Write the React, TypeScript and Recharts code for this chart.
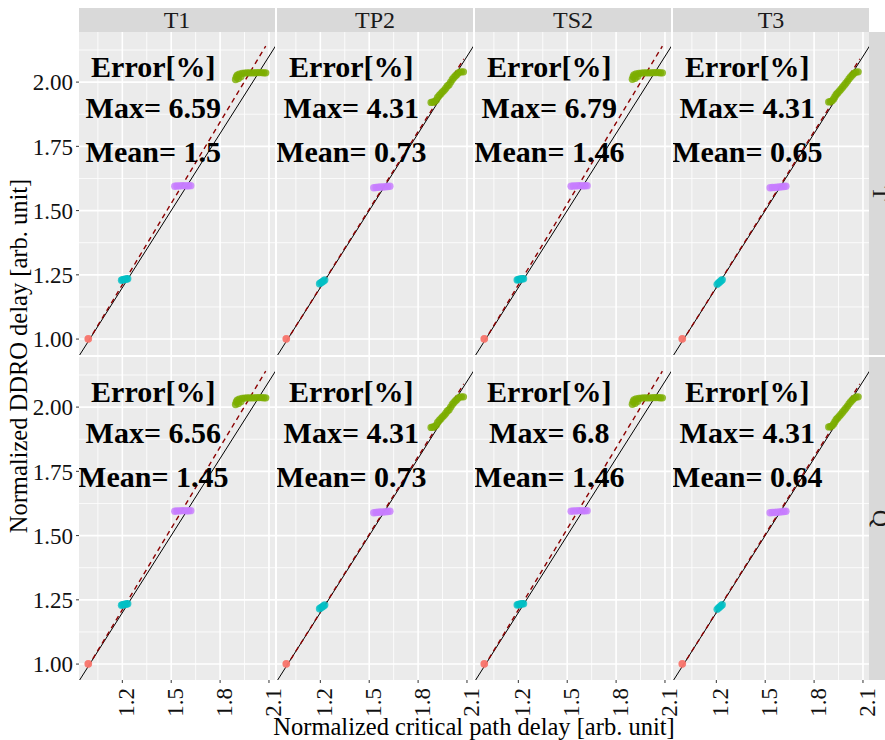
import { ScatterChart, Scatter, XAxis, YAxis, CartesianGrid, ReferenceLine } from 'recharts'

// facet labels
const facetCols = ['T1', 'TP2', 'TS2', 'T3']
const facetRows = ['T', 'Q']

// axis ticks (major) and ggplot-style minor breaks
const xTicks = [1.2, 1.5, 1.8, 2.1]
const xMinor = [1.05, 1.35, 1.65, 1.95]
const yTicks = [1.0, 1.25, 1.5, 1.75, 2.0]
const yMinor = [1.125, 1.375, 1.625, 1.875, 2.125]

// error annotation values per column, one array per row
const errHeader = 'Error[%]'
const maxErrT = ['6.59', '4.31', '6.79', '4.31']
const maxErrQ = ['6.56', '4.31', '6.8', '4.31']
const meanErrT = ['1.5', '0.73', '1.46', '0.65']
const meanErrQ = ['1.45', '0.73', '1.46', '0.64']

// identity reference y = x
const identityLine = [0.9, 2.2]

// point clusters (normalized critical path delay vs DDRO delay)
const redPts = [{ x: 0.99, y: 1.0 }, { x: 0.992, y: 1.001 }]

const cyanT1 = [
  { x: 1.195, y: 1.229 }, { x: 1.202, y: 1.231 }, { x: 1.21, y: 1.232 },
  { x: 1.218, y: 1.233 }, { x: 1.226, y: 1.234 }, { x: 1.233, y: 1.235 },
]
const cyanTP2 = [
  { x: 1.195, y: 1.215 }, { x: 1.203, y: 1.219 }, { x: 1.211, y: 1.222 },
  { x: 1.219, y: 1.226 }, { x: 1.227, y: 1.23 },
]
const cyanTS2 = [
  { x: 1.193, y: 1.23 }, { x: 1.2, y: 1.232 }, { x: 1.208, y: 1.233 },
  { x: 1.216, y: 1.234 }, { x: 1.224, y: 1.235 }, { x: 1.232, y: 1.235 },
]
const cyanT3 = [
  { x: 1.205, y: 1.213 }, { x: 1.213, y: 1.218 }, { x: 1.221, y: 1.222 },
  { x: 1.229, y: 1.227 }, { x: 1.236, y: 1.231 },
]

const purpleT1 = [
  { x: 1.522, y: 1.595 }, { x: 1.535, y: 1.596 }, { x: 1.55, y: 1.596 }, { x: 1.565, y: 1.597 },
  { x: 1.58, y: 1.597 }, { x: 1.595, y: 1.596 }, { x: 1.608, y: 1.597 }, { x: 1.62, y: 1.597 },
]
const purpleTP2 = [
  { x: 1.528, y: 1.589 }, { x: 1.542, y: 1.59 }, { x: 1.556, y: 1.591 }, { x: 1.57, y: 1.592 },
  { x: 1.585, y: 1.592 }, { x: 1.6, y: 1.593 }, { x: 1.614, y: 1.594 }, { x: 1.627, y: 1.595 },
]
const purpleTS2 = [
  { x: 1.524, y: 1.595 }, { x: 1.538, y: 1.596 }, { x: 1.552, y: 1.596 }, { x: 1.567, y: 1.597 },
  { x: 1.582, y: 1.597 }, { x: 1.597, y: 1.596 }, { x: 1.61, y: 1.597 }, { x: 1.622, y: 1.597 },
]
const purpleT3 = [
  { x: 1.53, y: 1.589 }, { x: 1.544, y: 1.59 }, { x: 1.558, y: 1.59 }, { x: 1.572, y: 1.591 },
  { x: 1.587, y: 1.592 }, { x: 1.601, y: 1.593 }, { x: 1.615, y: 1.594 }, { x: 1.627, y: 1.595 },
]

const greenT1 = [
  { x: 1.895, y: 2.01 }, { x: 1.9, y: 2.02 }, { x: 1.906, y: 2.027 }, { x: 1.912, y: 2.014 },
  { x: 1.918, y: 2.031 }, { x: 1.928, y: 2.022 }, { x: 1.935, y: 2.034 }, { x: 1.95, y: 2.035 },
  { x: 1.965, y: 2.036 }, { x: 1.98, y: 2.036 }, { x: 1.995, y: 2.036 }, { x: 2.01, y: 2.036 },
  { x: 2.025, y: 2.037 }, { x: 2.04, y: 2.037 }, { x: 2.055, y: 2.037 }, { x: 2.068, y: 2.036 },
  { x: 2.08, y: 2.036 },
]
const greenTP2 = [
  { x: 1.88, y: 1.921 }, { x: 1.89, y: 1.922 }, { x: 1.9, y: 1.924 }, { x: 1.912, y: 1.93 },
  { x: 1.92, y: 1.94 }, { x: 1.93, y: 1.948 }, { x: 1.94, y: 1.955 }, { x: 1.95, y: 1.962 },
  { x: 1.96, y: 1.968 }, { x: 1.97, y: 1.976 }, { x: 1.98, y: 1.985 }, { x: 1.99, y: 1.99 },
  { x: 2.0, y: 2.0 }, { x: 2.01, y: 2.01 }, { x: 2.02, y: 2.018 }, { x: 2.03, y: 2.025 },
  { x: 2.04, y: 2.031 }, { x: 2.052, y: 2.038 }, { x: 2.065, y: 2.04 }, { x: 2.078, y: 2.04 },
]
const greenTS2 = [
  { x: 1.9, y: 2.011 }, { x: 1.905, y: 2.021 }, { x: 1.91, y: 2.028 }, { x: 1.917, y: 2.015 },
  { x: 1.923, y: 2.032 }, { x: 1.933, y: 2.023 }, { x: 1.94, y: 2.034 }, { x: 1.955, y: 2.035 },
  { x: 1.97, y: 2.036 }, { x: 1.985, y: 2.036 }, { x: 2.0, y: 2.036 }, { x: 2.015, y: 2.036 },
  { x: 2.03, y: 2.037 }, { x: 2.045, y: 2.037 }, { x: 2.06, y: 2.037 }, { x: 2.072, y: 2.036 },
  { x: 2.084, y: 2.036 },
]
const greenT3 = [
  { x: 1.89, y: 1.923 }, { x: 1.9, y: 1.924 }, { x: 1.91, y: 1.927 }, { x: 1.92, y: 1.934 },
  { x: 1.928, y: 1.943 }, { x: 1.936, y: 1.952 }, { x: 1.945, y: 1.958 }, { x: 1.955, y: 1.965 },
  { x: 1.965, y: 1.972 }, { x: 1.975, y: 1.98 }, { x: 1.985, y: 1.988 }, { x: 1.995, y: 1.996 },
  { x: 2.005, y: 2.004 }, { x: 2.015, y: 2.013 }, { x: 2.025, y: 2.021 }, { x: 2.035, y: 2.028 },
  { x: 2.045, y: 2.034 }, { x: 2.057, y: 2.039 }, { x: 2.07, y: 2.04 },
]

// fitted (dashed) line per column
const fitT1 = [{ x: 0.99, y: 0.99 }, { x: 2.08, y: 2.14 }]
const fitTP2 = [{ x: 0.99, y: 0.99 }, { x: 2.08, y: 2.09 }]
const fitTS2 = [{ x: 0.99, y: 0.99 }, { x: 2.084, y: 2.14 }]
const fitT3 = [{ x: 0.99, y: 0.99 }, { x: 2.08, y: 2.09 }]

const cyanByCol = [cyanT1, cyanTP2, cyanTS2, cyanT3]
const purpleByCol = [purpleT1, purpleTP2, purpleTS2, purpleT3]
const greenByCol = [greenT1, greenTP2, greenTS2, greenT3]
const fitByCol = [fitT1, fitTP2, fitTS2, fitT3]

const X_DOMAIN: [number, number] = [0.934, 2.137]
const Y_DOMAIN: [number, number] = [0.938, 2.195]
const LABEL_X = 1.39
const LABEL_Y = [2.06, 1.9, 1.729]

// layout
const PLOT_LEFT = 79
const PLOT_TOP = 32
const PANEL_W = 196
const PANEL_H = 323
const COL_STEP = 198
const ROW_STEP = 325
const XAXIS_H = 55
const RIGHT_PAD = 14
const SERIF = '"Liberation Serif", "Times New Roman", serif'

const dot = (color: string) => (p: any) =>
  <circle cx={p.cx} cy={p.cy} r={3.7} fill={color} fillOpacity={0.8} />

const labelShape = (p: any) => {
  const text = p.payload?.label ?? p.label
  return (
    <text x={p.cx} y={p.cy} dy="0.35em" textAnchor="middle" fontFamily={SERIF}
      fontSize={30} fontWeight="bold" fill="#000">{text}</text>
  )
}

const XTick = (p: any) => {
  const tx = p.x + 12
  const ty = p.y
  return (
    <text x={tx} y={ty} transform={`rotate(-90 ${tx} ${ty})`} textAnchor="end"
      fontFamily={SERIF} fontSize={23} fill="#111">{p.payload.value.toFixed(1)}</text>
  )
}

function Panel({ r, c }: { r: number; c: number }) {
  const isLeft = c === 0
  const isBottom = r === 1
  const left = isLeft ? 0 : PLOT_LEFT + c * COL_STEP
  const width = (isLeft ? PLOT_LEFT + PANEL_W : PANEL_W) + RIGHT_PAD
  const top = PLOT_TOP + r * ROW_STEP
  const height = isBottom ? PANEL_H + XAXIS_H : PANEL_H
  const maxErr = r === 0 ? maxErrT : maxErrQ
  const meanErr = r === 0 ? meanErrT : meanErrQ
  const labels = [
    { x: LABEL_X, y: LABEL_Y[0], label: errHeader },
    { x: LABEL_X, y: LABEL_Y[1], label: `Max= ${maxErr[c]}` },
    { x: LABEL_X, y: LABEL_Y[2], label: `Mean= ${meanErr[c]}` },
  ]
  return (
    <div style={{ position: 'absolute', left, top }}>
      <ScatterChart width={width} height={height} margin={{ top: 0, right: RIGHT_PAD, bottom: 0, left: 0 }}>
        <CartesianGrid fill="#EBEBEB" stroke="#ffffff" strokeWidth={0.8}
          horizontalValues={yMinor} verticalValues={xMinor} />
        <CartesianGrid fill="none" stroke="#ffffff" strokeWidth={1.6}
          horizontalValues={yTicks} verticalValues={xTicks} />
        <XAxis type="number" dataKey="x" domain={X_DOMAIN} allowDataOverflow ticks={xTicks}
          interval={0} hide={!isBottom} height={XAXIS_H} tickSize={3} tickMargin={5}
          axisLine={false} tickLine={{ stroke: '#333' }} tick={XTick} />
        <YAxis type="number" dataKey="y" domain={Y_DOMAIN} allowDataOverflow ticks={yTicks}
          interval={0} hide={!isLeft} width={PLOT_LEFT} tickSize={3} tickMargin={3}
          axisLine={false} tickLine={{ stroke: '#333' }}
          tick={{ fontFamily: SERIF, fontSize: 23, fill: '#111' }}
          tickFormatter={(v: number) => v.toFixed(2)} />
        <Scatter data={redPts} shape={dot('#F8766D')} isAnimationActive={false} />
        <Scatter data={cyanByCol[c]} shape={dot('#00BFC4')} isAnimationActive={false} />
        <Scatter data={purpleByCol[c]} shape={dot('#C77CFF')} isAnimationActive={false} />
        <Scatter data={greenByCol[c]} shape={dot('#7CAE00')} isAnimationActive={false} />
        <ReferenceLine ifOverflow="hidden" stroke="#000" strokeWidth={1}
          segment={[{ x: identityLine[0], y: identityLine[0] }, { x: identityLine[1], y: identityLine[1] }]} />
        <ReferenceLine ifOverflow="hidden" stroke="#8B0000" strokeWidth={1.4} strokeDasharray="5 4"
          segment={fitByCol[c]} />
        <Scatter data={labels} shape={labelShape} isAnimationActive={false} />
      </ScatterChart>
    </div>
  )
}

export default function App() {
  const panels = []
  for (let r = 0; r < 2; r++) for (let c = 0; c < 4; c++) panels.push(<Panel key={`${r}-${c}`} r={r} c={c} />)
  return (
    <div style={{ position: 'absolute', left: 0, top: 0, width: 885, height: 740, overflow: 'hidden', background: '#fff' }}>
      {panels}
      <svg width={885} height={740} style={{ position: 'absolute', left: 0, top: 0, pointerEvents: 'none' }}>
        {facetCols.map((name, c) => (
          <g key={name}>
            <rect x={PLOT_LEFT + c * COL_STEP} y={8} width={PANEL_W} height={24} fill="#D9D9D9" />
            <text x={PLOT_LEFT + c * COL_STEP + PANEL_W / 2} y={28} textAnchor="middle"
              fontFamily={SERIF} fontSize={24} fill="#1A1A1A">{name}</text>
          </g>
        ))}
        {facetRows.map((name, r) => {
          const cy = PLOT_TOP + r * ROW_STEP + PANEL_H / 2
          return (
            <g key={name}>
              <rect x={PLOT_LEFT + 3 * COL_STEP + PANEL_W} y={PLOT_TOP + r * ROW_STEP} width={24} height={PANEL_H} fill="#D9D9D9" />
              <text x={873} y={cy} transform={`rotate(90 873 ${cy})`} textAnchor="middle"
                fontFamily={SERIF} fontSize={24} fill="#1A1A1A">{name}</text>
            </g>
          )
        })}
        <text x={474} y={735} textAnchor="middle" fontFamily={SERIF} fontSize={24.5} fill="#000">
          Normalized critical path delay [arb. unit]
        </text>
        <text x={27} y={356} transform="rotate(-90 27 356)" textAnchor="middle" fontFamily={SERIF}
          fontSize={24.5} fill="#000">Normalized DDRO delay [arb. unit]</text>
      </svg>
    </div>
  )
}
